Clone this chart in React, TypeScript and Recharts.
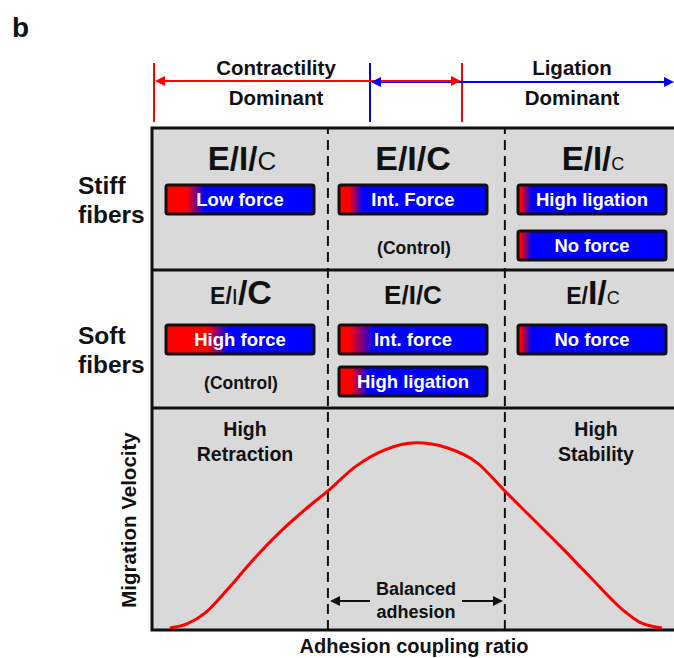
import { LineChart, Line, XAxis, YAxis, ReferenceLine } from "recharts"

// bell-shaped migration velocity vs adhesion coupling ratio (arbitrary units)
const ratio = [3.4, 6.7, 10.2, 14.4, 19.3, 24.9, 29.9, 33.7, 38.9, 44.6, 50.6, 56.5, 62.3, 67.4, 72.6, 78.4, 83.9, 90.2, 93.7, 97.7]
const velocity = [0.4, 1.2, 3.4, 8.0, 13.9, 19.9, 24.5, 27.7, 32.5, 35.9, 37.3, 36.3, 33.3, 27.9, 22.5, 16.5, 10.6, 4.0, 1.4, 0.4]
const zoneBounds = [33.7, 67.6]

const stiffLabels = ["Low force", "Int. Force", "High ligation", "No force"]
const softLabels = ["High force", "Int. force", "High ligation", "No force"]

const data = ratio.map((r, i) => ({ ratio: r, velocity: velocity[i] }))

const FONT = "Liberation Sans, Arial, Helvetica, sans-serif"

function ForceBox({ id, x, y, label, red, fade }: { id: string; x: number; y: number; label: string; red: number; fade: number }) {
  return (
    <g>
      <defs>
        <linearGradient id={id} x1="0" y1="0" x2="1" y2="0">
          <stop offset="0%" stopColor="#ff0000" />
          <stop offset={`${red}%`} stopColor="#ff0000" />
          <stop offset={`${fade}%`} stopColor="#0000ff" />
          <stop offset="100%" stopColor="#0000ff" />
        </linearGradient>
      </defs>
      <rect x={x} y={y} width={148} height={29} rx={2} fill={`url(#${id})`} stroke="#111" strokeWidth={3} />
      <text x={x + 74} y={y + 21} textAnchor="middle" fill="#fff" fontWeight="bold" fontSize={18.5} fontFamily={FONT}>
        {label}
      </text>
    </g>
  )
}

function Arrow({ x, y, dir, color }: { x: number; y: number; dir: number; color: string }) {
  return <polygon points={`${x},${y} ${x - dir * 10},${y - 5} ${x - dir * 10},${y + 5}`} fill={color} />
}

function Diagram() {
  const bold = { fontFamily: FONT, fontWeight: "bold" as const, fill: "#111" }
  return (
    <svg width={674} height={658} style={{ position: "absolute", left: 0, top: 0 }}>
      <text x={12} y={37} fontSize={28} {...bold}>b</text>

      {/* top arrows */}
      <line x1={154} y1={63} x2={154} y2={122} stroke="#ff0000" strokeWidth={2} />
      <line x1={370} y1={63} x2={370} y2={122} stroke="#0000ff" strokeWidth={2} />
      <line x1={462} y1={63} x2={462} y2={122} stroke="#ff0000" strokeWidth={2} />
      <line x1={372} y1={82} x2={664} y2={82} stroke="#0000ff" strokeWidth={2} />
      <line x1={162} y1={81} x2={455} y2={81} stroke="#ff0000" strokeWidth={2} />
      <Arrow x={155} y={81} dir={-1} color="#ff0000" />
      <Arrow x={461} y={81} dir={1} color="#ff0000" />
      <Arrow x={371} y={82} dir={-1} color="#0000ff" />
      <Arrow x={674} y={82} dir={1} color="#0000ff" />
      <text x={276} y={75} textAnchor="middle" fontSize={20.5} {...bold}>Contractility</text>
      <text x={276} y={105} textAnchor="middle" fontSize={20.5} {...bold}>Dominant</text>
      <text x={572} y={75} textAnchor="middle" fontSize={20.5} {...bold}>Ligation</text>
      <text x={572} y={105} textAnchor="middle" fontSize={20.5} {...bold}>Dominant</text>

      {/* panel */}
      <rect x={152} y={128} width={540} height={502} fill="#d9d9d9" stroke="#111" strokeWidth={3} />
      <line x1={152} y1={270} x2={680} y2={270} stroke="#111" strokeWidth={3} />
      <line x1={152} y1={408} x2={680} y2={408} stroke="#111" strokeWidth={3} />

      {/* row labels */}
      <text x={78} y={194} fontSize={24.5} {...bold}>Stiff</text>
      <text x={78} y={223} fontSize={24.5} {...bold}>fibers</text>
      <text x={78} y={344} fontSize={24.5} {...bold}>Soft</text>
      <text x={78} y={373} fontSize={24.5} {...bold}>fibers</text>

      {/* stiff fibers row */}
      <text x={242} y={170} textAnchor="middle" {...bold}>
        <tspan fontSize={33}>E/I/</tspan>
        <tspan fontSize={26} fontWeight="normal">C</tspan>
      </text>
      <text x={413} y={170} textAnchor="middle" fontSize={34} {...bold}>E/I/C</text>
      <text x={593} y={170} textAnchor="middle" {...bold}>
        <tspan fontSize={33}>E/I/</tspan>
        <tspan fontSize={18} fontWeight="normal">C</tspan>
      </text>
      <ForceBox id="g1" x={166} y={185} label={stiffLabels[0]} red={14} fade={26} />
      <ForceBox id="g2" x={339} y={185} label={stiffLabels[1]} red={7} fade={16} />
      <ForceBox id="g3" x={518} y={185} label={stiffLabels[2]} red={2} fade={9} />
      <ForceBox id="g4" x={518} y={231} label={stiffLabels[3]} red={2} fade={9} />
      <text x={414} y={254} textAnchor="middle" fontSize={17.5} {...bold}>(Control)</text>

      {/* soft fibers row */}
      <text x={241} y={304} textAnchor="middle" {...bold}>
        <tspan fontSize={23}>E/</tspan>
        <tspan fontSize={22} fontWeight="normal">I</tspan>
        <tspan fontSize={34}>/C</tspan>
      </text>
      <text x={413} y={304} textAnchor="middle" fontSize={26} {...bold}>E/I/C</text>
      <text x={593} y={304} textAnchor="middle" {...bold}>
        <tspan fontSize={23}>E/</tspan>
        <tspan fontSize={34}>I/</tspan>
        <tspan fontSize={18} fontWeight="normal">C</tspan>
      </text>
      <ForceBox id="g5" x={166} y={325} label={softLabels[0]} red={28} fade={42} />
      <ForceBox id="g6" x={339} y={325} label={softLabels[1]} red={7} fade={24} />
      <ForceBox id="g7" x={339} y={367} label={softLabels[2]} red={8} fade={20} />
      <ForceBox id="g8" x={518} y={325} label={softLabels[3]} red={2} fade={9} />
      <text x={241} y={389} textAnchor="middle" fontSize={17.5} {...bold}>(Control)</text>

      {/* chart annotations */}
      <text x={245} y={436} textAnchor="middle" fontSize={19.5} {...bold}>High</text>
      <text x={245} y={461} textAnchor="middle" fontSize={19.5} {...bold}>Retraction</text>
      <text x={596} y={436} textAnchor="middle" fontSize={19.5} {...bold}>High</text>
      <text x={596} y={461} textAnchor="middle" fontSize={19.5} {...bold}>Stability</text>
      <text x={416} y={595} textAnchor="middle" fontSize={18} {...bold}>Balanced</text>
      <text x={416} y={618} textAnchor="middle" fontSize={18} {...bold}>adhesion</text>
      <line x1={338} y1={601} x2={370} y2={601} stroke="#111" strokeWidth={2} />
      <Arrow x={330} y={601} dir={-1} color="#111" />
      <line x1={462} y1={601} x2={494} y2={601} stroke="#111" strokeWidth={2} />
      <Arrow x={503} y={601} dir={1} color="#111" />
      <text transform="translate(136,520) rotate(-90)" textAnchor="middle" fontSize={20.5} {...bold}>Migration Velocity</text>
      <text x={414} y={653} textAnchor="middle" fontSize={20} {...bold}>Adhesion coupling ratio</text>
    </svg>
  )
}

export default function App() {
  return (
    <div style={{ position: "absolute", left: 0, top: 0, width: 674, height: 658, background: "#fff" }}>
      <Diagram />
      <div style={{ position: "absolute", left: 0, top: 0 }}>
        <LineChart width={674} height={658} data={data} margin={{ top: 128, right: 0, bottom: 28, left: 152 }}>
          <XAxis type="number" dataKey="ratio" domain={[0, 100]} hide />
          <YAxis type="number" domain={[0, 100]} hide />
          {zoneBounds.map((b) => (
            <ReferenceLine key={b} x={b} stroke="#111" strokeWidth={2} strokeDasharray="10 6" />
          ))}
          <Line type="monotone" dataKey="velocity" stroke="#ff0000" strokeWidth={3} dot={false} isAnimationActive={false} />
        </LineChart>
      </div>
    </div>
  )
}
